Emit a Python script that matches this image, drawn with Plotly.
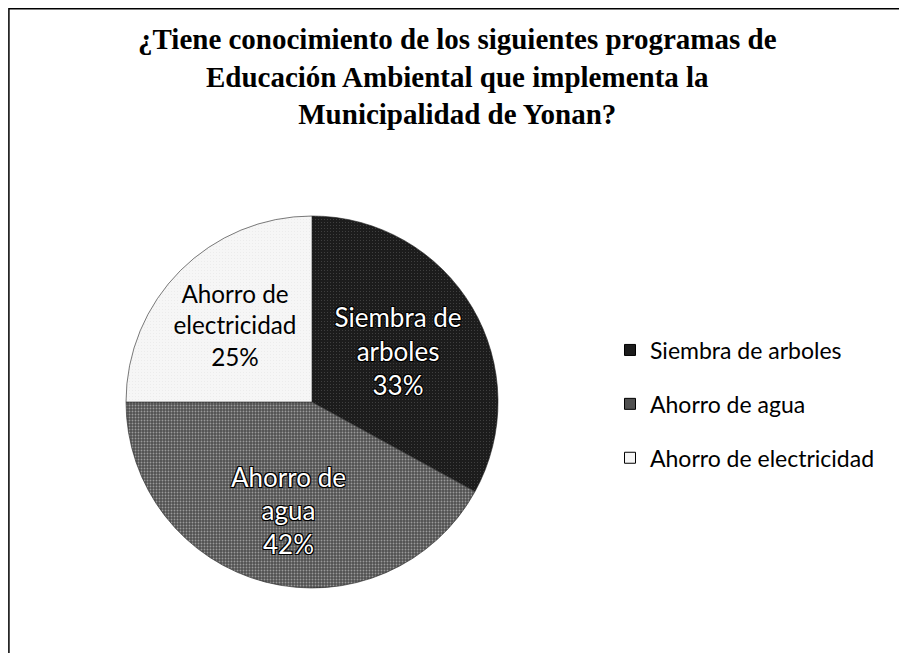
import plotly.graph_objects as go

labels = ["Siembra de arboles", "Ahorro de agua", "Ahorro de electricidad"]
slice_text = ["Siembra de<br>arboles", "Ahorro de<br>agua", "Ahorro de<br>electricidad"]
values = [33, 42, 25]
colors = ["#1c1c1c", "#505050", "#f6f6f6"]
text_colors = ["white", "white", "black"]
title_text = ("¿Tiene conocimiento de los siguientes programas de<br>"
              "Educación Ambiental que implementa la<br>"
              "Municipalidad de Yonan?")

W, H = 907, 653
off = 8  # page body margin
cx, cy, r = 312 - off, 402 - off, 186

outline = "-1px -1px 0 #000, 1px -1px 0 #000, -1px 1px 0 #000, 1px 1px 0 #000"
pad = "\u00a0<br>"

fig = go.Figure()
fig.add_trace(go.Pie(
    labels=labels,
    values=values,
    text=slice_text,
    sort=False,
    direction="clockwise",
    rotation=0,
    showlegend=False,
    marker=dict(colors=colors, line=dict(color="#222", width=0.6),
                pattern=dict(shape=[".", ".", "."], fgcolor=["#6a6a6a", "#9a9a9a", "#c8c8c8"],
                             bgcolor=colors, size=3, solidity=[0.05, 0.3, 0.03])),
    textinfo="text+percent",
    texttemplate=["%{text}<br>%{percent:.0%}",
                  pad + "%{text}<br>%{percent:.0%}",
                  "%{text}<br>%{percent:.0%}"],
    textposition="inside",
    insidetextorientation="horizontal",
    insidetextfont=dict(family="Lato, Open Sans, sans-serif", size=26, color=text_colors,
                        shadow=[outline, outline, "none"]),
    domain=dict(x=[(cx - r) / W, (cx + r) / W], y=[(H - cy - r) / H, (H - cy + r) / H]),
    hoverinfo="label+percent",
))

# legend entries (one per category)
for lab, col in zip(labels, colors):
    fig.add_trace(go.Scatter(
        x=[None], y=[None], mode="markers", name=lab, legendgroup=lab,
        marker=dict(symbol="square", size=11, color=col, line=dict(color="black", width=1)),
        showlegend=True,
    ))

fig.update_layout(
    width=W, height=H,
    margin=dict(l=0, r=0, t=0, b=0),
    paper_bgcolor="white",
    plot_bgcolor="white",
    xaxis=dict(visible=False),
    yaxis=dict(visible=False),
    annotations=[dict(text=title_text, x=449 / W, y=1 - 13 / H, xref="paper", yref="paper",
                      xanchor="center", yanchor="top", showarrow=False, align="center",
                      font=dict(family="Liberation Serif, Times New Roman, serif", size=29,
                                color="black", weight="bold"))],
    legend=dict(x=602 / W, y=1 - 396 / H, xanchor="left", yanchor="middle",
                font=dict(family="Lato, Open Sans, sans-serif", size=23, color="black"),
                tracegroupgap=21, itemwidth=30, bgcolor="rgba(0,0,0,0)"),
    shapes=[dict(type="rect", xref="paper", yref="paper", x0=0.001, x1=1.05, y0=-0.05, y1=0.999,
                 line=dict(color="black", width=1.5))],
)

fig.write_html("out.html")
